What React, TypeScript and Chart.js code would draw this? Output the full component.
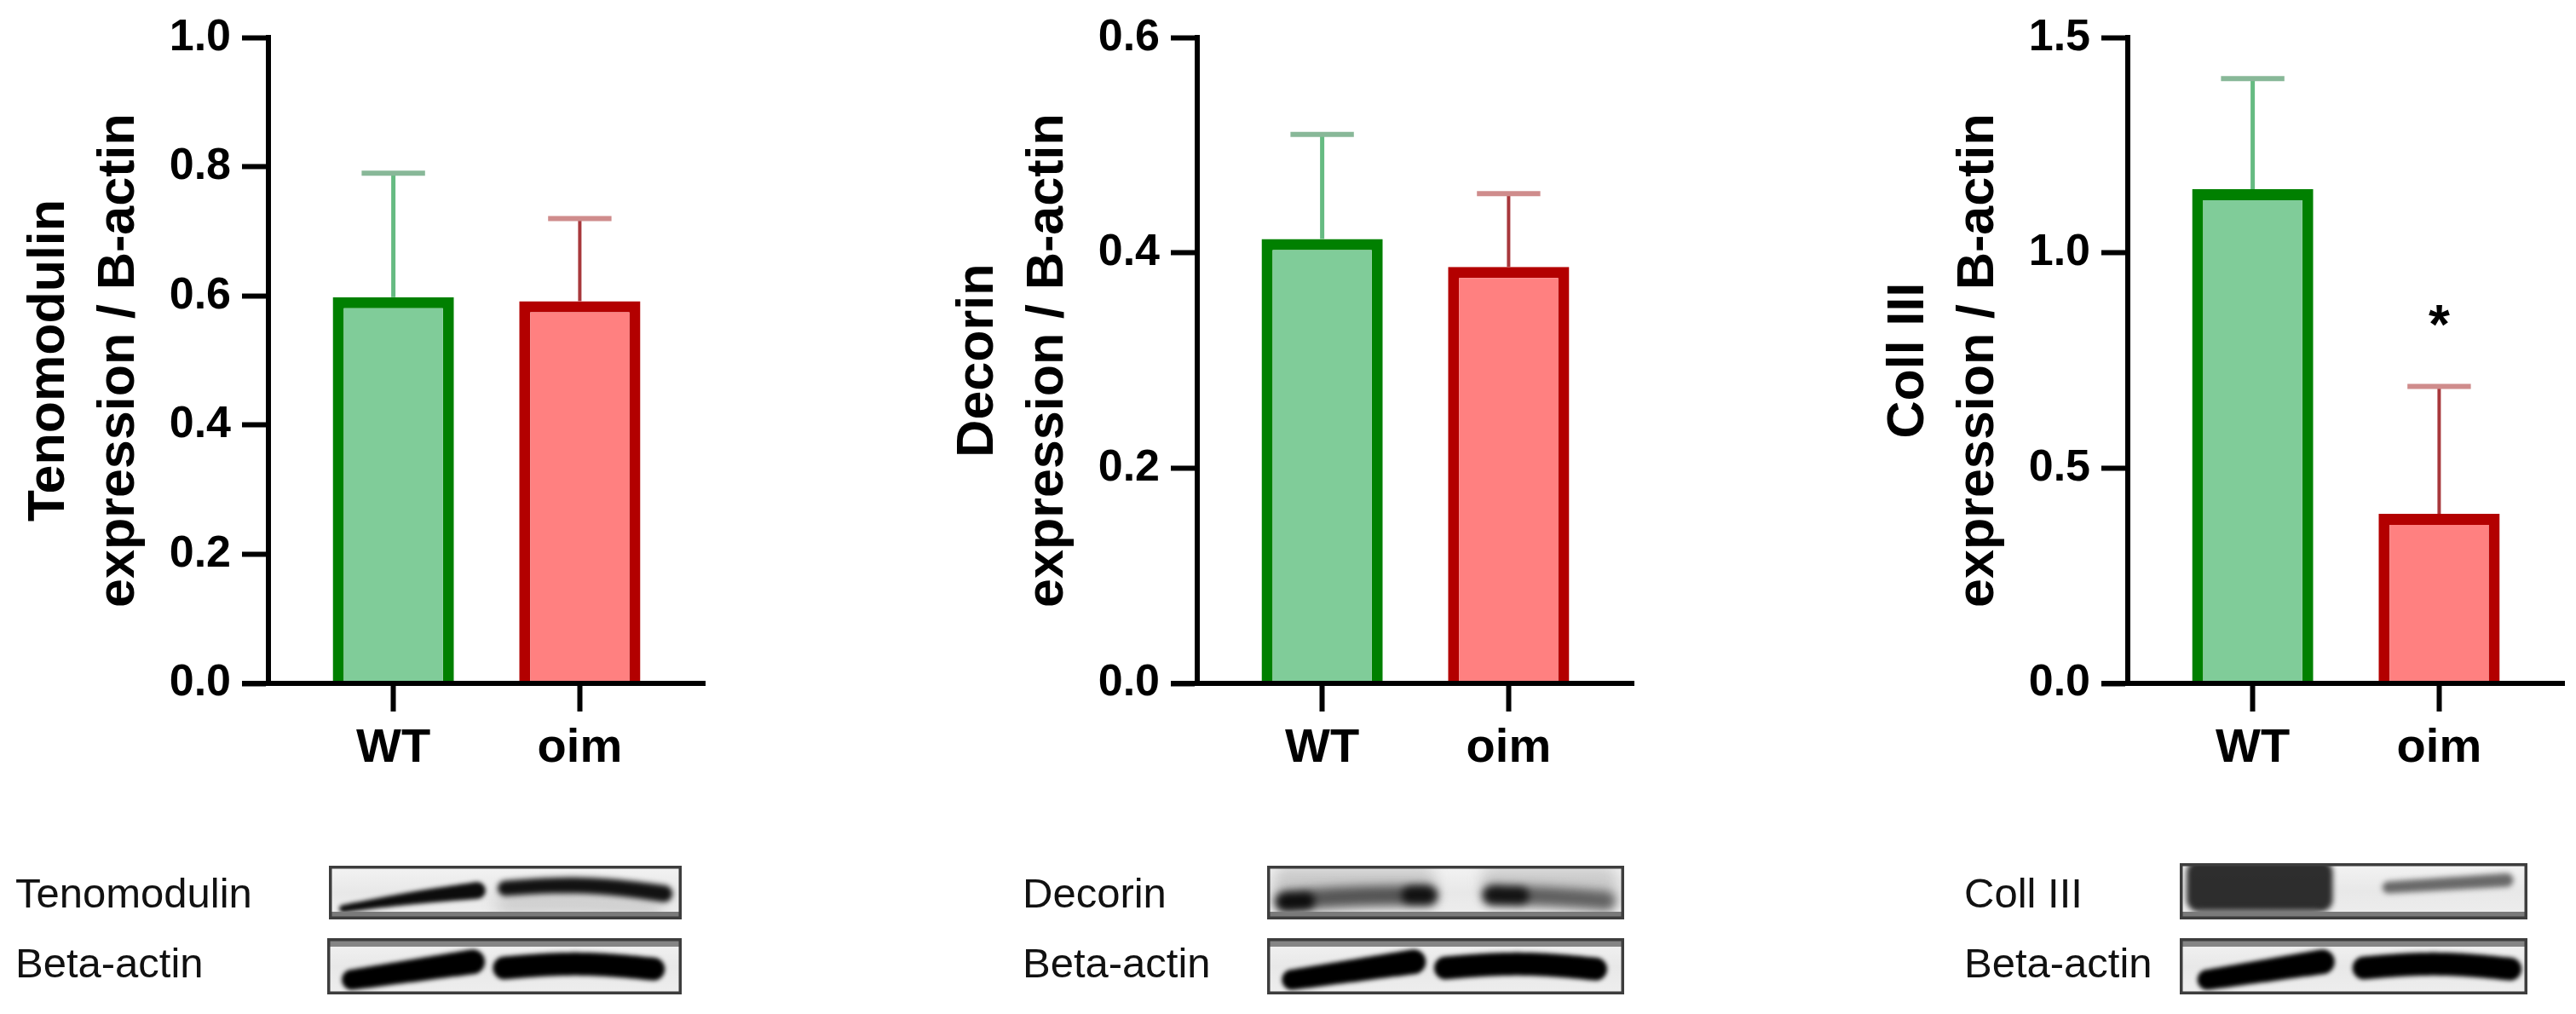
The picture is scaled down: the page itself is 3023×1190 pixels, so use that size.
import React, { useEffect, useRef } from 'react';
import { Chart, registerables } from 'chart.js';

Chart.register(...registerables);
Chart.defaults.font.family = "'Liberation Sans', Arial, Helvetica, sans-serif";

// ---------------- DATA ----------------
const categories = ['WT', 'oim'];

const tenomodulinMean = [0.598, 0.592];
const tenomodulinSD = [0.192, 0.128];
const tenomodulinSig = ['', ''];
const tenomodulinYTicks = [0, 0.2, 0.4, 0.6, 0.8, 1.0];

const decorinMean = [0.413, 0.387];
const decorinSD = [0.097, 0.068];
const decorinSig = ['', ''];
const decorinYTicks = [0, 0.2, 0.4, 0.6];

const coll3Mean = [1.148, 0.394];
const coll3SD = [0.257, 0.296];
const coll3Sig = ['', '*'];
const coll3YTicks = [0, 0.5, 1.0, 1.5];

const blotLabels = [
  ['Tenomodulin', 'Beta-actin'],
  ['Decorin', 'Beta-actin'],
  ['Coll III', 'Beta-actin'],
];

// ---------------- STYLE ----------------
const FILLS = ['#80cc99', '#ff8080'];
const BORDERS = ['#008000', '#b30000'];
const STEM_COLORS = ['#66bb82', '#a8383c'];
const CAP_COLORS = ['#88b898', '#cf8c8c'];
const STEM_WIDTHS = [5, 4];

const CANVAS_W = 840;
const CANVAS_H = 960;
const AXIS_LEFT = 315;
const PLOT_BOTTOM = 802;

const panels = [
  { left: 0, title: ['Tenomodulin', 'expression / B-actin'], mean: tenomodulinMean, sd: tenomodulinSD, sig: tenomodulinSig, yTicks: tenomodulinYTicks },
  { left: 1090, title: ['Decorin', 'expression / B-actin'], mean: decorinMean, sd: decorinSD, sig: decorinSig, yTicks: decorinYTicks },
  { left: 2182, title: ['Coll III', 'expression / B-actin'], mean: coll3Mean, sd: coll3SD, sig: coll3Sig, yTicks: coll3YTicks },
];

function makePlugins(p: any) {
  const capHalf = 0.17;
  return [
    {
      id: 'errorBars',
      beforeDatasetsDraw(chart: any) {
        const { ctx } = chart;
        const x = chart.scales.x;
        const y = chart.scales.y;
        p.mean.forEach((m: number, i: number) => {
          const cx = x.getPixelForValue(i);
          const yTop = y.getPixelForValue(m + p.sd[i]);
          const yBase = y.getPixelForValue(m);
          ctx.save();
          ctx.strokeStyle = STEM_COLORS[i];
          ctx.lineWidth = STEM_WIDTHS[i];
          ctx.beginPath();
          ctx.moveTo(cx, yBase);
          ctx.lineTo(cx, yTop);
          ctx.stroke();
          ctx.strokeStyle = CAP_COLORS[i];
          ctx.lineWidth = 6;
          ctx.beginPath();
          ctx.moveTo(x.getPixelForValue(i - capHalf), yTop);
          ctx.lineTo(x.getPixelForValue(i + capHalf), yTop);
          ctx.stroke();
          ctx.restore();
        });
      },
      afterDatasetsDraw(chart: any) {
        const { ctx } = chart;
        const x = chart.scales.x;
        const y = chart.scales.y;
        p.sig.forEach((s: string, i: number) => {
          if (!s) return;
          const cx = x.getPixelForValue(i);
          const cy = y.getPixelForValue(p.mean[i] + p.sd[i]) - 83;
          ctx.save();
          ctx.font = "bold 64px 'Liberation Sans', Arial, sans-serif";
          ctx.fillStyle = '#000';
          ctx.textAlign = 'center';
          ctx.textBaseline = 'alphabetic';
          const mt = ctx.measureText(s);
          const by = cy + (mt.actualBoundingBoxAscent - mt.actualBoundingBoxDescent) / 2;
          ctx.fillText(s, cx, by);
          ctx.restore();
        });
      },
    },
    {
      id: 'axisExt',
      afterDraw(chart: any) {
        const { ctx, chartArea } = chart;
        ctx.save();
        ctx.fillStyle = '#000';
        ctx.fillRect(chartArea.left - 31, chartArea.bottom - 3, 31, 6);
        ctx.restore();
      },
    },
  ];
}

function makeConfig(p: any): any {
  return {
    type: 'bar',
    data: {
      datasets: [
        {
          data: p.mean.map((v: number, i: number) => ({ x: i, y: v })),
          backgroundColor: FILLS,
          borderColor: BORDERS,
          borderWidth: 13,
          borderSkipped: 'bottom',
          categoryPercentage: 1,
          barPercentage: 0.65,
        },
      ],
    },
    options: {
      responsive: false,
      animation: false,
      events: [],
      layout: { padding: { top: 42, left: 0, right: CANVAS_W - AXIS_LEFT - 512, bottom: 0 } },
      plugins: { legend: { display: false }, tooltip: { enabled: false } },
      scales: {
        x: {
          type: 'linear',
          min: -0.67,
          max: 1.67,
          offset: false,
          afterBuildTicks: (s: any) => {
            s.ticks = categories.map((_, i) => ({ value: i }));
          },
          afterFit: (s: any) => {
            s.height = CANVAS_H - PLOT_BOTTOM;
          },
          ticks: {
            callback: (v: any) => categories[Math.round(v)] ?? '',
            font: { size: 56, weight: 'bold' },
            color: '#000',
            padding: 10,
            maxRotation: 0,
            autoSkip: false,
          },
          grid: { display: true, offset: false, drawOnChartArea: false, drawTicks: true, tickLength: 33, tickWidth: 6, tickColor: '#000' },
          border: { display: true, color: '#000', width: 6, z: 1 },
        },
        y: {
          type: 'linear',
          min: p.yTicks[0],
          max: p.yTicks[p.yTicks.length - 1],
          afterBuildTicks: (s: any) => {
            s.ticks = p.yTicks.map((v: number) => ({ value: v }));
          },
          afterFit: (s: any) => {
            s.width = AXIS_LEFT;
          },
          ticks: {
            callback: (v: any) => Number(v).toFixed(1),
            font: { size: 52, weight: 'bold' },
            color: '#000',
            padding: 13,
          },
          grid: { display: true, drawOnChartArea: false, drawTicks: true, tickLength: 31, tickWidth: 6, tickColor: '#000' },
          border: { display: true, color: '#000', width: 6 },
          title: {
            display: true,
            text: p.title,
            color: '#000',
            font: { size: 61, weight: 'bold', lineHeight: 1.33 },
            padding: { top: 18, bottom: 0 },
          },
        },
      },
    },
    plugins: makePlugins(p),
  };
}

function BarPanel({ p }: { p: any }) {
  const ref = useRef<HTMLCanvasElement | null>(null);
  useEffect(() => {
    if (!ref.current) return;
    const chart = new Chart(ref.current, makeConfig(p));
    return () => chart.destroy();
  }, [p]);
  return (
    <canvas
      ref={ref}
      width={CANVAS_W}
      height={CANVAS_H}
      style={{ position: 'absolute', left: p.left, top: 0, width: CANVAS_W, height: CANVAS_H }}
    />
  );
}

// ---------------- BLOTS (decorative image reproduction) ----------------
const BLOT_TOP = 990;
const blotBoxes = [
  { top: { x: 386, y: 1016, w: 414, h: 63 }, bottom: { x: 384, y: 1101, w: 416, h: 66 } },
  { top: { x: 1487, y: 1016, w: 419, h: 63 }, bottom: { x: 1487, y: 1101, w: 419, h: 66 } },
  { top: { x: 2558, y: 1013, w: 408, h: 66 }, bottom: { x: 2558, y: 1101, w: 408, h: 66 } },
];
const labelLefts = [18, 1200, 2305];

const betaBands = (a: number, b: number) => [
  { x0: a, x1: 0.41, y0: 0.74, y1: 0.42, t0: 24, t1: 29, arch: 0, tone: 0, alpha: 1, blur: 2.5 },
  { x0: b, x1: b + 0.42, y0: 0.53, y1: 0.55, t0: 27, t1: 27, arch: 0.08, tone: 0, alpha: 1, blur: 2.5 },
];

const blotBands: any[] = [
  {
    top: [
      { x0: 0.5, x1: 0.92, y0: 0.72, y1: 0.8, t0: 22, t1: 22, arch: 0.05, tone: 90, alpha: 0.22, blur: 9 },
      { x0: 0.04, x1: 0.42, y0: 0.8, y1: 0.46, t0: 9, t1: 20, arch: 0.02, tone: 0, alpha: 0.95, blur: 2.5 },
      { x0: 0.5, x1: 0.95, y0: 0.42, y1: 0.52, t0: 18, t1: 20, arch: 0.1, tone: 0, alpha: 0.92, blur: 3 },
    ],
    bottom: betaBands(0.07, 0.5),
  },
  {
    top: [
      { kind: 'rect', x0: 0.02, x1: 0.47, y0: 0.0, y1: 0.6, tone: 110, alpha: 0.28, blur: 8 },
      { kind: 'rect', x0: 0.6, x1: 0.98, y0: 0.0, y1: 0.6, tone: 110, alpha: 0.26, blur: 8 },
      { x0: 0.05, x1: 0.45, y0: 0.66, y1: 0.56, t0: 24, t1: 24, arch: 0.03, tone: 30, alpha: 0.7, blur: 6 },
      { x0: 0.05, x1: 0.11, y0: 0.68, y1: 0.66, t0: 20, t1: 20, arch: 0, tone: 0, alpha: 0.85, blur: 5 },
      { x0: 0.4, x1: 0.45, y0: 0.55, y1: 0.55, t0: 20, t1: 20, arch: 0, tone: 0, alpha: 0.8, blur: 5 },
      { x0: 0.63, x1: 0.95, y0: 0.55, y1: 0.66, t0: 23, t1: 23, arch: 0.02, tone: 30, alpha: 0.65, blur: 6 },
      { x0: 0.63, x1: 0.71, y0: 0.55, y1: 0.56, t0: 20, t1: 20, arch: 0, tone: 0, alpha: 0.8, blur: 5 },
    ],
    bottom: betaBands(0.07, 0.5),
  },
  {
    top: [
      { kind: 'rect', x0: 0.02, x1: 0.44, y0: -0.05, y1: 0.86, tone: 35, alpha: 0.95, blur: 3 },
      { kind: 'rect', x0: 0.05, x1: 0.4, y0: 0.82, y1: 0.96, tone: 90, alpha: 0.6, blur: 3 },
      { x0: 0.6, x1: 0.94, y0: 0.43, y1: 0.3, t0: 14, t1: 16, arch: 0, tone: 50, alpha: 0.7, blur: 3 },
    ],
    bottom: betaBands(0.08, 0.53),
  },
];

function drawBlot(ctx: CanvasRenderingContext2D, box: any, bands: any[], isTop: boolean) {
  const x = box.x;
  const y = box.y - BLOT_TOP;
  const w = box.w;
  const h = box.h;
  const g = ctx.createLinearGradient(0, y, 0, y + h);
  g.addColorStop(0, '#f3f3f3');
  g.addColorStop(0.5, '#e8e8e8');
  g.addColorStop(1, '#eeeeee');
  ctx.fillStyle = g;
  ctx.fillRect(x, y, w, h);
  ctx.save();
  ctx.beginPath();
  ctx.rect(x, y, w, h);
  ctx.clip();
  for (const b of bands) {
    ctx.filter = `blur(${b.blur}px)`;
    ctx.fillStyle = `rgba(${b.tone},${b.tone},${b.tone},${b.alpha})`;
    ctx.beginPath();
    if (b.kind === 'rect') {
      const rx = x + w * b.x0;
      const ry = y + h * b.y0;
      const rw = w * (b.x1 - b.x0);
      const rh = h * (b.y1 - b.y0);
      (ctx as any).roundRect(rx, ry, rw, rh, 14);
    } else {
      const N = 80;
      for (let k = 0; k <= N; k++) {
        const s = k / N;
        const cx = x + w * (b.x0 + (b.x1 - b.x0) * s);
        const cy = y + h * (b.y0 + (b.y1 - b.y0) * s - b.arch * Math.sin(Math.PI * s));
        const r = (b.t0 + (b.t1 - b.t0) * s) / 2;
        ctx.moveTo(cx + r, cy);
        ctx.arc(cx, cy, r, 0, Math.PI * 2);
      }
    }
    ctx.fill();
  }
  ctx.filter = 'none';
  ctx.restore();
  // frame
  if (isTop) {
    ctx.fillStyle = '#7a7a7a';
    ctx.fillRect(x, y + h - 9, w, 6);
  } else {
    ctx.fillStyle = '#858585';
    ctx.fillRect(x, y + 3, w, 7);
  }
  ctx.strokeStyle = '#3d3d3d';
  ctx.lineWidth = 3.5;
  ctx.strokeRect(x + 1.75, y + 1.75, w - 3.5, h - 3.5);
}

function Blots() {
  const ref = useRef<HTMLCanvasElement | null>(null);
  useEffect(() => {
    const c = ref.current;
    if (!c) return;
    const ctx = c.getContext('2d');
    if (!ctx) return;
    ctx.clearRect(0, 0, c.width, c.height);
    blotBoxes.forEach((bx, i) => {
      drawBlot(ctx, bx.top, blotBands[i].top, true);
      drawBlot(ctx, bx.bottom, blotBands[i].bottom, false);
    });
  }, []);
  return (
    <>
      <canvas ref={ref} width={3023} height={200} style={{ position: 'absolute', left: 0, top: BLOT_TOP, width: 3023, height: 200 }} />
      {blotLabels.map((pair, i) =>
        pair.map((t, j) => (
          <div
            key={`${i}-${j}`}
            style={{
              position: 'absolute',
              left: labelLefts[i],
              top: (j === 0 ? 1066 : 1148) - 42,
              fontFamily: "'Liberation Sans', Arial, sans-serif",
              fontSize: 49,
              lineHeight: '49px',
              color: '#111',
              whiteSpace: 'nowrap',
            }}
          >
            {t}
          </div>
        ))
      )}
    </>
  );
}

export default function App() {
  useEffect(() => {
    document.body.style.margin = '0';
  }, []);
  return (
    <div style={{ position: 'relative', width: 3023, height: 1190, overflow: 'hidden', background: '#fff' }}>
      {panels.map((p, i) => (
        <BarPanel key={i} p={p} />
      ))}
      <Blots />
    </div>
  );
}
